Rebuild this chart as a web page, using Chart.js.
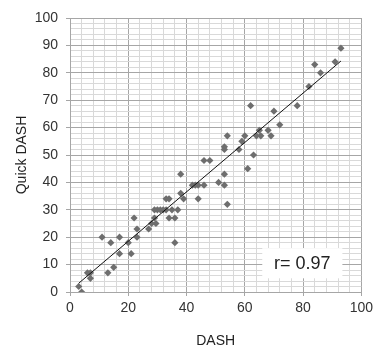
<!DOCTYPE html>
<html>
<head>
<meta charset="utf-8">
<script src="https://cdn.jsdelivr.net/npm/chart.js@4.4.1/dist/chart.umd.min.js"></script>
<style>
  html, body { margin: 0; padding: 0; background: #fff; }
  #wrap { width: 377px; height: 350px; }
</style>
</head>
<body>
<div id="wrap"><canvas id="chart" width="377" height="350"></canvas></div>
<script>
// DASH (x) vs Quick DASH (y)
var dash = [3, 4, 6, 7, 7, 11, 13, 14, 15, 17, 17, 20, 21, 22, 23, 23, 27, 28, 29, 29.5,
            29, 30, 31, 32, 33, 33, 34, 34, 35, 36, 36, 37, 38, 38, 39, 42, 43, 44, 46, 44,
            46, 48, 51, 53, 53, 54, 53, 53, 54, 58, 59, 60, 61, 62, 63, 64, 65, 65.5, 68, 69,
            70, 72, 78, 82, 84, 86, 91, 93];
var quickDash = [2, 0, 7, 7, 5, 20, 7, 18, 9, 20, 14, 18, 14, 27, 23, 20, 23, 25, 27, 25,
                 30, 30, 30, 30, 30, 34, 34, 27, 30, 27, 18, 30, 43, 36, 34, 39, 39, 39, 39, 34,
                 48, 48, 40, 39, 43, 32, 53, 52, 57, 52, 55, 57, 45, 68, 50, 57, 59, 57, 59, 57,
                 66, 61, 68, 75, 83, 80, 84, 89];
// regression line end points
var fitX = [3, 93];
var fitY = [3.2, 84.3];
var rLabel = 'r= 0.97';
var rBox = [66, 93.5, 16, 5]; // x from, x to, y top, y bottom (data units)

var points = dash.map(function (x, i) { return { x: x, y: quickDash[i] }; });
var fit = fitX.map(function (x, i) { return { x: x, y: fitY[i] }; });

var FONT = 'Liberation Sans';
var MAJOR = '#a6a6a6', MINOR = '#d9d9d9';

var rPlugin = {
  id: 'rLabel',
  afterDatasetsDraw: function (chart) {
    var sx = chart.scales.x, sy = chart.scales.y, ctx = chart.ctx;
    var l = sx.getPixelForValue(rBox[0]), r = sx.getPixelForValue(rBox[1]);
    var t = sy.getPixelForValue(rBox[2]), b = sy.getPixelForValue(rBox[3]);
    ctx.save();
    ctx.fillStyle = '#fff';
    ctx.fillRect(l, t, r - l, b - t);
    ctx.fillStyle = '#222';
    ctx.font = '18px "' + FONT + '"';
    ctx.textAlign = 'center';
    ctx.textBaseline = 'middle';
    ctx.fillText(rLabel, (l + r) / 2, (t + b) / 2 + 1);
    ctx.restore();
  }
};

new Chart(document.getElementById('chart'), {
  type: 'scatter',
  data: {
    datasets: [{
      data: fit,
      type: 'line',
      borderColor: '#111',
      borderWidth: 1,
      pointRadius: 0,
      fill: false,
      order: 1
    }, {
      data: points,
      pointStyle: 'rectRot',
      pointRadius: 3.6,
      backgroundColor: '#6e6e6e',
      borderColor: '#6e6e6e',
      borderWidth: 0,
      order: 2
    }]
  },
  options: {
    responsive: false,
    animation: false,
    layout: { padding: { left: 8, right: 13, top: 18, bottom: 0 } },
    plugins: { legend: { display: false }, tooltip: { enabled: false } },
    scales: {
      x: {
        type: 'linear', min: 0, max: 100,
        afterFit: function (s) { s.height = 58; },
        ticks: {
          stepSize: 4, autoSkip: false, maxRotation: 0, minRotation: 0, padding: 4, color: '#333',
          font: { family: FONT, size: 14 },
          callback: function (v) { return v % 20 === 0 ? v : ''; }
        },
        grid: {
          tickLength: 4,
          color: function (c) { return c.tick && c.tick.value % 20 === 0 ? MAJOR : MINOR; },
          tickColor: function (c) { return c.tick && c.tick.value % 20 === 0 ? MAJOR : 'rgba(0,0,0,0)'; }
        },
        border: { color: MAJOR },
        title: { display: true, text: 'DASH', color: '#222', font: { family: FONT, size: 14 }, padding: { top: 14, bottom: 0 } }
      },
      y: {
        type: 'linear', min: 0, max: 100,
        afterFit: function (s) { s.width = 62; },
        ticks: {
          stepSize: 2, autoSkip: false, padding: 8, color: '#333',
          font: { family: FONT, size: 14 },
          callback: function (v) { return v % 10 === 0 ? v : ''; }
        },
        grid: {
          tickLength: 4,
          color: function (c) { return c.tick && c.tick.value % 10 === 0 ? MAJOR : MINOR; },
          tickColor: function (c) { return c.tick && c.tick.value % 10 === 0 ? MAJOR : 'rgba(0,0,0,0)'; }
        },
        border: { color: MAJOR },
        title: { display: true, text: 'Quick DASH', color: '#222', font: { family: FONT, size: 14 }, padding: { top: 6, bottom: 4 } }
      }
    }
  },
  plugins: [rPlugin]
});
</script>
</body>
</html>
